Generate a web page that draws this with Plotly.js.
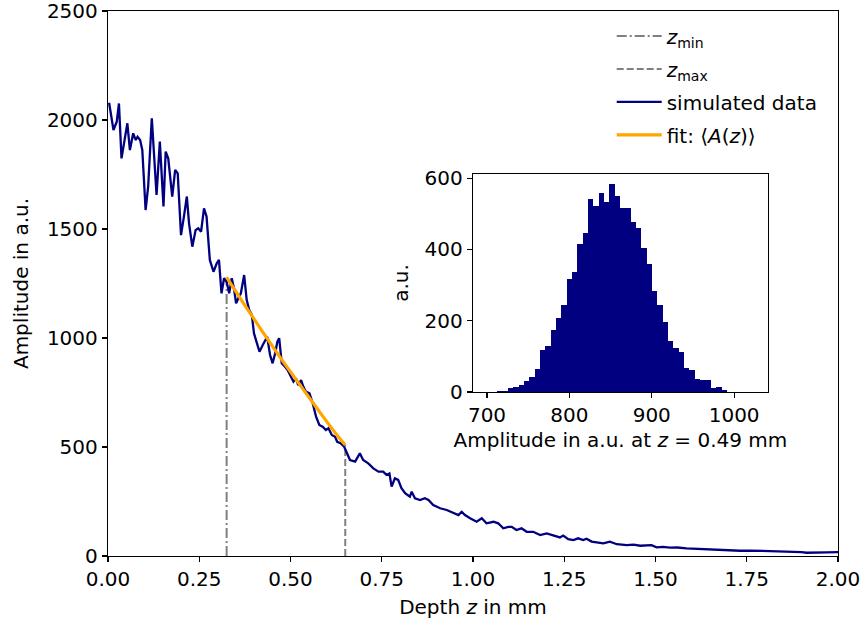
<!DOCTYPE html>
<html>
<head>
<meta charset="utf-8">
<script src="https://cdn.plot.ly/plotly-3.0.1.min.js"></script>
<style>html,body{margin:0;padding:0;background:#fff;}#chart{width:867px;height:629px;}</style>
</head>
<body>
<div id="chart"></div>
<script>
// ---- main curve: simulated A-scan amplitude vs depth ----
const depth = [0.003,0.015,0.024,0.030,0.037,0.045,0.053,0.060,0.069,0.076,0.081,0.088,0.094,0.103,0.110,0.120,0.126,0.133,0.142,0.152,0.158,0.165,0.176,0.184,0.191,0.200,0.208,0.216,0.222,0.231,0.240,0.247,0.255,0.263,0.270,0.279,0.289,0.298,0.304,
0.311,0.318,0.325,0.332,0.339,0.345,0.351,0.357,0.364,0.373,0.380,0.387,0.394,0.400,0.407,0.415,0.424,0.430,0.436,0.444,0.451,0.458,0.464,0.469,0.476,0.485,0.492,0.501,0.508,0.515,0.521,0.529,0.535,0.542,0.552,0.561,0.570,0.579,0.588,0.597,0.604,0.613,0.622,0.628,0.637,0.647,
0.656,0.663,0.677,0.690,0.699,0.713,0.727,0.741,0.754,0.763,0.771,0.777,0.786,0.795,0.804,0.814,0.827,0.832,0.841,0.855,0.868,0.878,0.891,0.910,0.928,0.946,0.960,0.969,0.978,0.992,1.010,1.024,1.037,1.056,1.069,1.083,1.097,1.106,1.119,1.133,1.147,1.165,1.184,1.202,1.220,1.238,1.247,1.261,1.275,1.288,1.302,1.311,1.325,1.343,1.357,1.375,1.394,1.421,1.440,1.458,1.489,1.503,1.520,1.540,1.560,1.585,1.610,1.631,1.650,1.677,1.700,1.732,1.760,1.786,1.810,1.832,1.850,1.877,1.900,1.914,1.940,1.969,2.000];
const amplitude = [2079,1954,1992,2076,1824,1908,1985,1862,1939,1908,1923,1908,1862,1587,1694,2008,1832,1656,1901,1603,1855,1824,1649,1771,1755,1472,1557,1649,1526,1419,1495,1503,1488,1595,1557,1358,1304,1343,1358,
1205,1274,1258,1205,1274,1228,1159,1182,1205,1289,1174,1128,1106,1021,976,937,968,991,1006,922,884,930,983,999,884,868,853,823,800,815,784,807,777,754,746,700,639,601,593,578,586,555,547,524,517,501,
470,440,433,471,440,425,402,387,387,372,379,318,356,349,311,288,272,295,265,257,265,257,234,219,211,196,188,203,188,173,157,173,150,157,150,127,134,134,119,127,111,111,96,104,96,85,94,77,73,81,73,79,66,63,58,66,54,50,52,47,50,40,42,38,39,35,33,31,31,28,27,24,25,24,22,20,21,20,18,15,17,17,18];

// ---- fit <A(z)> between z_min and z_max ----
const fitDepth = [0.325,0.375,0.425,0.475,0.525,0.575,0.625,0.650];
const fitAmp   = [1278,1150,1025,903,787,672,560,509];

// ---- z_min / z_max markers ----
const zMin = 0.325, zMinTop = 1278;
const zMax = 0.650, zMaxTop = 509;

// ---- inset histogram at z = 0.49 mm ----
const histStart = 712.5;
const histWidth = 6.48;
const histCounts = [2,4,10,15,19,31,43,64,119,129,173,207,245,317,336,415,447,542,521,559,532,584,549,517,517,476,459,403,358,284,243,196,143,122,113,67,63,35,33,33,10,13,6];
const histCenters = histCounts.map((c,i)=>histStart + (i+0.5)*histWidth);

const xTickVals = [0,0.25,0.5,0.75,1.0,1.25,1.5,1.75,2.0];
const xTickText = ['0.00','0.25','0.50','0.75','1.00','1.25','1.50','1.75','2.00'];

const FONT = 'DejaVu Sans, sans-serif';
const navy = '#000080', grey = '#808080', orange = '#FFA500';

const traces = [
  {x:[zMin,zMin], y:[0,zMinTop], mode:'lines', name:'<i>z</i><sub>min</sub>', legendgroup:'a',
   line:{color:grey, width:2, dash:'10px,3px,2px,3px'}, xaxis:'x', yaxis:'y'},
  {x:[zMax,zMax], y:[0,zMaxTop], mode:'lines', name:'<i>z</i><sub>max</sub>', legendgroup:'b',
   line:{color:grey, width:2, dash:'7px,3px'}, xaxis:'x', yaxis:'y'},
  {x:depth, y:amplitude, mode:'lines', name:'simulated data', legendgroup:'c',
   line:{color:navy, width:2.3}, xaxis:'x', yaxis:'y'},
  {x:fitDepth, y:fitAmp, mode:'lines', name:'fit: ⟨<i>A</i>(<i>z</i>)⟩', legendgroup:'d',
   line:{color:orange, width:3.2, shape:'spline'}, xaxis:'x', yaxis:'y'},
  {x:histCenters, y:histCounts, type:'bar', width:histWidth, marker:{color:navy, line:{width:0}},
   showlegend:false, xaxis:'x2', yaxis:'y2'}
];

const axCommon = {showline:true, mirror:true, linecolor:'#000', linewidth:1.2, ticks:'outside',
  ticklen:5, tickwidth:1.2, tickcolor:'#000', showgrid:false, zeroline:false, ticklabeloverflow:'allow',
  tickfont:{family:FONT, size:20, color:'#000'}};

const layout = {
  width:867, height:629,
  margin:{l:108, r:29, t:11, b:73},
  paper_bgcolor:'#fff', plot_bgcolor:'#fff',
  font:{family:FONT, size:20, color:'#000'},
  showlegend:true,
  legend:{x:0.69, y:0.99, xanchor:'left', yanchor:'top', bgcolor:'rgba(0,0,0,0)',
          font:{family:FONT, size:20, color:'#000'}, tracegroupgap:4, itemwidth:45},
  xaxis:Object.assign({}, axCommon, {domain:[0,1], range:[0,2], tickvals:xTickVals, ticktext:xTickText,
    anchor:'y', title:{text:'Depth <i>z</i> in mm', font:{family:FONT, size:20}, standoff:9}}),
  yaxis:Object.assign({}, axCommon, {domain:[0,1], range:[0,2500], tickvals:[0,500,1000,1500,2000,2500],
    anchor:'x', title:{text:'Amplitude in a.u.', font:{family:FONT, size:20}, standoff:12}}),
  xaxis2:Object.assign({}, axCommon, {domain:[0.5,0.904], range:[683,1041], tickvals:[700,800,900,1000],
    anchor:'y2', title:{text:'Amplitude in a.u. at <i>z</i> = 0.49 mm', font:{family:FONT, size:20}, standoff:6}}),
  yaxis2:Object.assign({}, axCommon, {domain:[0.301,0.701], range:[0,612], tickvals:[0,200,400,600],
    anchor:'x2', title:{text:'a.u.', font:{family:FONT, size:20}, standoff:10}}),
  bargap:0
};

Plotly.newPlot('chart', traces, layout, {displayModeBar:false, staticPlot:true});
</script>
</body>
</html>
